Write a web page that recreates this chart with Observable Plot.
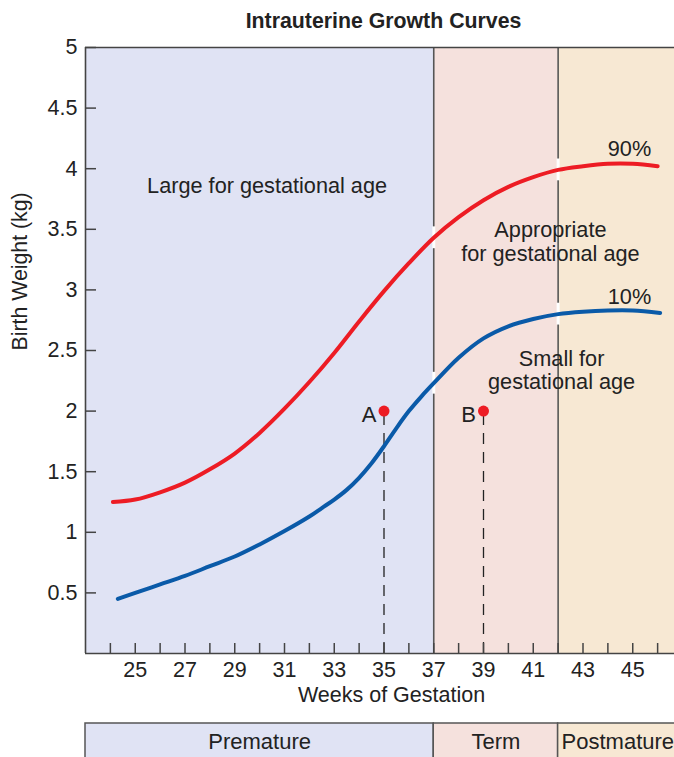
<!DOCTYPE html>
<html><head><meta charset="utf-8">
<script src="https://cdn.jsdelivr.net/npm/d3@7"></script>
<script src="https://cdn.jsdelivr.net/npm/@observablehq/plot@0.6"></script>
<style>
body{margin:0;background:#fff;overflow:hidden;width:674px;height:757px;}
#title{height:36px;font:bold 21.3px "Liberation Sans",Arial,sans-serif;line-height:42px;color:#222;text-align:center;width:597px;margin-left:85px;white-space:nowrap;}
#band{margin-top:6px;}
svg{display:block;max-width:none !important;}
</style></head><body>
<div id="title">Intrauterine Growth Curves</div>
<div id="chart"></div>
<div id="band"></div>
<script>
// ---- data ----
const weeks90 = [24.1, 25, 26, 27, 28, 29, 30, 31, 32, 33, 34, 35, 36, 37, 38, 39, 40, 41, 42, 43, 44, 45, 46];
const p90 = [1.25, 1.27, 1.33, 1.41, 1.52, 1.65, 1.82, 2.02, 2.24, 2.48, 2.74, 2.99, 3.22, 3.43, 3.60, 3.74, 3.85, 3.93, 3.99, 4.02, 4.04, 4.04, 4.02];
const weeks10 = [24.3, 25, 26, 27, 28, 29, 30, 31, 32, 32.5, 33, 33.5, 34, 34.5, 35, 35.5, 36, 36.5, 37, 38, 39, 40, 41, 42, 43, 44, 45, 46.1];
const p10 = [0.45, 0.50, 0.57, 0.64, 0.72, 0.80, 0.90, 1.01, 1.13, 1.20, 1.27, 1.35, 1.45, 1.57, 1.71, 1.86, 2.00, 2.12, 2.23, 2.44, 2.60, 2.70, 2.76, 2.80, 2.82, 2.83, 2.83, 2.81];
const periods = ["Premature", "Term", "Postmature"];
const periodStart = [23, 37, 42];
const periodEnd = [37, 42, 46.8];
const periodColors = ["#e0e3f4", "#f5e1dd", "#f7e8d3"];
const xTickWeeks = [24,25,26,27,28,29,30,31,32,33,34,35,36,37,38,39,40,41,42,43,44,45,46];
const xLabelWeeks = [25,27,29,31,33,35,37,39,41,43,45];
const yTicks = [0.5,1,1.5,2,2.5,3,3.5,4,4.5,5];
const markerLabels = ["A", "B"];
const markerWeeks = [35, 39];
const markerWeights = [2, 2];
const regionLabels = ["Large for gestational age", "Appropriate\nfor gestational age", "Small for\ngestational age"];
const regionLabelWeeks = [30.3, 41.69, 42.14];
const regionLabelWeights = [3.86, 3.40, 2.34];
const curveLabels = ["90%", "10%"];
const curveLabelWeeks = [44.87, 44.87];
const curveLabelWeights = [4.16, 2.94];

// ---- tables ----
const line90 = weeks90.map((w, i) => ({week: w, kg: p90[i]}));
const line10 = weeks10.map((w, i) => ({week: w, kg: p10[i]}));
const periodData = periods.map((name, i) => ({name, start: periodStart[i], end: periodEnd[i], color: periodColors[i]}));
const markers = markerLabels.map((label, i) => ({label, week: markerWeeks[i], kg: markerWeights[i]}));
const regions = regionLabels.map((text, i) => ({text, week: regionLabelWeeks[i], kg: regionLabelWeights[i]}));
const curveLbls = curveLabels.map((text, i) => ({text, week: curveLabelWeeks[i], kg: curveLabelWeights[i]}));
const dividers = [37, 42];
function interp(ws, vs, x) {
  for (let i = 1; i < ws.length; i++) if (ws[i] >= x) { const t = (x - ws[i-1]) / (ws[i] - ws[i-1]); return vs[i-1] + t * (vs[i] - vs[i-1]); }
  return vs[vs.length - 1];
}
const gaps = [];
for (const d of dividers) { gaps.push({week: d, kg: interp(weeks90, p90, d)}); gaps.push({week: d, kg: interp(weeks10, p10, d)}); }

const font = "Liberation Sans, Arial, sans-serif";
const W = 682, ML = 85, MR = 0, H = 680, MT = 11, MB = 63;
const plotW = W - ML - MR, plotH = H - MT - MB;
const axisColor = "#444";

const chart = Plot.plot({
  width: W, height: H, marginLeft: ML, marginRight: MR, marginTop: MT, marginBottom: MB,
  style: {fontFamily: font, fontSize: "21px", color: "#222", background: "transparent", overflow: "visible", maxWidth: "none"},
  x: {domain: [23, 47]},
  y: {domain: [0, 5]},
  marks: [
    Plot.rect(periodData, {x1: "start", x2: "end", y1: 0, y2: 5, fill: "color"}),
    Plot.ruleX(dividers, {stroke: "#555", strokeWidth: 1.6}),
    Plot.ruleX(gaps, {x: "week", y1: d => d.kg - 0.09, y2: d => d.kg + 0.09, stroke: "white", strokeWidth: 3}),
    Plot.ruleX(markers, {x: "week", y1: 0, y2: "kg", stroke: "#222", strokeWidth: 1.3, strokeDasharray: "11,8"}),
    Plot.line(line90, {x: "week", y: "kg", stroke: "#ed1c24", strokeWidth: 4, curve: "catmull-rom"}),
    Plot.line(line10, {x: "week", y: "kg", stroke: "#0a5aa8", strokeWidth: 4, curve: "catmull-rom"}),
    Plot.dot(markers, {x: "week", y: "kg", r: 5.5, fill: "#ed1c24", stroke: "none"}),
    Plot.text(markers, {x: "week", y: "kg", text: "label", dx: -15, dy: 4, fontSize: 22, fill: "#222"}),
    Plot.text(regions, {x: "week", y: "kg", text: "text", fontSize: 21.7, lineHeight: 1.08, fill: "#222"}),
    Plot.text(curveLbls, {x: "week", y: "kg", text: "text", fontSize: 21.7, fill: "#222"}),
    Plot.tickX(xTickWeeks, {x: d => d, insetTop: plotH - 10, stroke: axisColor, strokeWidth: 1.5}),
    Plot.tickY(yTicks, {y: d => d, insetRight: plotW - 11, stroke: axisColor, strokeWidth: 1.5}),
    Plot.ruleX([23], {stroke: axisColor, strokeWidth: 1.6}),
    Plot.ruleY([0, 5], {stroke: axisColor, strokeWidth: 1.6}),
    Plot.axisX(xLabelWeeks, {tickSize: 0, tickPadding: 8, fontSize: 21.5, label: null, fill: "#222"}),
    Plot.axisY(yTicks, {tickSize: 0, tickPadding: 8, fontSize: 21.5, label: null, fill: "#222", tickFormat: d => String(d)}),
    Plot.text(["Birth Weight (kg)"], {frameAnchor: "left", rotate: -90, dx: -65, fontSize: 21.3, fill: "#222"}),
    Plot.text(["Weeks of Gestation"], {frameAnchor: "bottom", dx: 7.5, dy: 48, fontSize: 21.5, fill: "#222"})
  ]
});
document.getElementById("chart").appendChild(chart);

const band = Plot.plot({
  width: W, height: 36, marginLeft: ML, marginRight: MR, marginTop: 1, marginBottom: 0,
  style: {fontFamily: font, fontSize: "21px", color: "#222", background: "transparent", overflow: "visible", maxWidth: "none"},
  x: {domain: [23, 47], axis: null},
  marks: [
    Plot.rect(periodData, {x1: "start", x2: "end", fill: "color", stroke: "#555", strokeWidth: 1.5}),
    Plot.text(periodData, {x: d => (d.start + d.end) / 2, text: "name", fontSize: 22, fill: "#222", dy: 1})
  ]
});
document.getElementById("band").appendChild(band);
</script>
</body></html>
